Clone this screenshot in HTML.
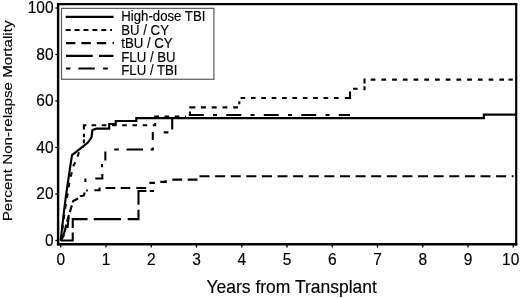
<!DOCTYPE html>
<html><head><meta charset="utf-8"><title>Non-relapse Mortality</title>
<style>
html,body{margin:0;padding:0;background:#fff;}
svg{display:block;font-family:"Liberation Sans",sans-serif;fill:#000;}
text{stroke:#000;stroke-width:0.15px;}
</style></head><body>
<svg width="520" height="298" viewBox="0 0 520 298">
<rect width="520" height="298" fill="#fff"/>
<g fill="none" stroke="#000" stroke-linejoin="miter">
<path d="M60.75,240.5L63.01,219.57L65.28,200.97L67.54,184.7L69.8,169.59L72.02,155.17L87.9,142.62L91.52,137.27L92.42,130.06L96.5,128.67L109.17,128.67L109.17,124.02L115.73,124.02L115.73,120.99L136.32,120.99L136.32,118.09L483.84,118.09L483.84,114.6L515.97,114.6" stroke-width="2.15"/>
<path d="M60.75,240.5L65.28,207.95L69.8,180.05L73.69,165.17L76.68,159.82L79.75,149.36L83.38,146.57L83.83,146.1" stroke-width="2.1" stroke-dasharray="4.7,6.05"/>
<path d="M83.9,143.2V139.6M83.9,137.3V133.8M83.9,129.4V125.3H86.4" stroke-width="2.1"/>
<path d="M91.6,125.3L155.2,125.3L155.2,116.6L186,116.6" stroke-width="2.1" stroke-dasharray="4.6,5.6"/>
<path d="M190,115.2V111.6M189.3,107.4H195.4M200.9,107.4H205.9M211.7,107.4H216.7M222.5,107.4H227.3M233.2,107.4H237.9M239.3,104.3V101.3" stroke-width="2.1"/>
<path d="M240.5,98.0L343.5,98.0" stroke-width="2.1" stroke-dasharray="4.7,5.68"/>
<path d="M344.8,98H350V91.5M353,88.75H357.6M364.5,90.2V86.2M364.5,83.4V79.6H365.5" stroke-width="2.1"/>
<path d="M370.7,79.6L506,79.6" stroke-width="2.1" stroke-dasharray="4.7,6.02"/>
<path d="M508.5,79.6H512.8" stroke-width="2.1"/>
<path d="M60.75,240.5L63.5,236L68,218L73.2,201L78.2,198.4L80.4,196.2L84,195.4L84.8,191L87.8,190.3" stroke-width="2.1" stroke-dasharray="7,3"/>
<path d="M94.4,190.3L99.6,190.3L99.6,187.4M105.5,188L115.3,188M120.7,188L130.3,188M136.3,188L146.1,188M150.4,184L150.4,182.9L154.9,182.9M160.3,181.9L165.8,181.9L165.8,180.2M172.3,179.6L182.1,179.6M187.7,179.6L197.5,179.6" stroke-width="2.1"/>
<path d="M199.5,176.2L513.6,176.2" stroke-width="2.1" stroke-dasharray="10,5.61"/>
<path d="M60.75,240.5L72.74,240.5L72.74,219.11L138.49,219.11L138.49,190.98L153.97,190.98" stroke-width="2.1" stroke-dasharray="20,4.4,23.8,6.2,27.3,6.6,20.1,5,21.8,3.3,6,100"/>
<path d="M62.5,237L65.5,229M67.6,228L68.7,217M85.4,182L85.4,178.4M95.3,178.5L102.3,178.5L102.3,174M102,167.2L102,164M105.35,160.6L105.35,151.5M114.2,149.5L118.8,149.5M126.5,149.5L143,149.5M150.6,149.5L152.8,149.5L152.8,147.6M152.8,140L152.8,132M163.7,132.4L168.4,132.4M172.2,129.5L172.2,118" stroke-width="2.1"/>
<path d="M188.75,115.0L350,115.0" stroke-width="2.1" stroke-dasharray="15,9.25,4,9.25"/>
</g>
<!-- frame -->
<g fill="none" stroke="#000">
<path d="M56.95,4.05H517.35" stroke-width="2.2"/>
<path d="M58.1,4V245.5" stroke-width="2.4"/>
<path d="M516.2,4V245.5" stroke-width="2.2"/>
<path d="M56.9,244.3H517.3" stroke-width="2.6"/>
</g>
<g stroke="#000" stroke-width="1.3">
<path d="M60.75,245V247.6"/><path d="M106.0,245V247.6"/><path d="M151.25,245V247.6"/><path d="M196.5,245V247.6"/><path d="M241.75,245V247.6"/><path d="M287.0,245V247.6"/><path d="M332.25,245V247.6"/><path d="M377.5,245V247.6"/><path d="M422.75,245V247.6"/><path d="M468.0,245V247.6"/><path d="M513.25,245V247.6"/>
<path d="M55.3,240.5H58"/><path d="M55.3,194.0H58"/><path d="M55.3,147.5H58"/><path d="M55.3,101.0H58"/><path d="M55.3,54.5H58"/><path d="M55.3,8.0H58"/>
</g>
<g font-size="15.5" text-anchor="end">
<text transform="translate(53.6,245.7) scale(1,1.07)">0</text><text transform="translate(53.6,199.2) scale(1,1.07)">20</text><text transform="translate(53.6,152.7) scale(1,1.07)">40</text><text transform="translate(53.6,106.2) scale(1,1.07)">60</text><text transform="translate(53.6,59.7) scale(1,1.07)">80</text><text transform="translate(53.6,13.2) scale(1,1.07)">100</text>
</g>
<g font-size="15.5" text-anchor="middle">
<text transform="translate(60.75,264.7) scale(1,1.12)">0</text><text transform="translate(106.0,264.7) scale(1,1.12)">1</text><text transform="translate(151.25,264.7) scale(1,1.12)">2</text><text transform="translate(196.5,264.7) scale(1,1.12)">3</text><text transform="translate(241.75,264.7) scale(1,1.12)">4</text><text transform="translate(287.0,264.7) scale(1,1.12)">5</text><text transform="translate(332.25,264.7) scale(1,1.12)">6</text><text transform="translate(377.5,264.7) scale(1,1.12)">7</text><text transform="translate(422.75,264.7) scale(1,1.12)">8</text><text transform="translate(468.0,264.7) scale(1,1.12)">9</text><text transform="translate(510.7,264.7) scale(1,1.12)">10</text>
</g>
<text transform="translate(291.7,292.8) scale(1,1.04)" font-size="17.5" text-anchor="middle">Years from Transplant</text>
<text transform="translate(12.3,120.9) rotate(-90) scale(1,0.85)" font-size="15.2" text-anchor="middle">Percent Non-relapse Mortality</text>
<!-- legend -->
<rect x="61.5" y="8.35" width="152.4" height="70.9" fill="#fff" stroke="#5a5a5a" stroke-width="1.2"/>
<g stroke="#000" stroke-width="2.1" fill="none">
<path d="M65.7,16.9H113.6" stroke-width="2.3"/>
<path d="M65.7,30H112" stroke-dasharray="5,3.9"/>
<path d="M66,43.1H113.9" stroke-dasharray="9.4,6,9.4,6,9.4,6.4,1.5,50"/>
<path d="M66,55.9H113.5" stroke-dasharray="26.8,6.2"/>
<path d="M66,68.5H113.6" stroke-dasharray="4.4,8,16.4,8.3,4.7,50"/>
</g>
<g font-size="13.2">
<text transform="translate(121.3,21.3) scale(1,1.07)">High-dose TBI</text>
<text transform="translate(121.3,34.7) scale(1,1.07)">BU / CY</text>
<text transform="translate(121.3,48.1) scale(1,1.07)">tBU / CY</text>
<text transform="translate(121.3,61.5) scale(1,1.07)">FLU / BU</text>
<text transform="translate(121.3,74.9) scale(1,1.07)">FLU / TBI</text>
</g>
</svg>
</body></html>
